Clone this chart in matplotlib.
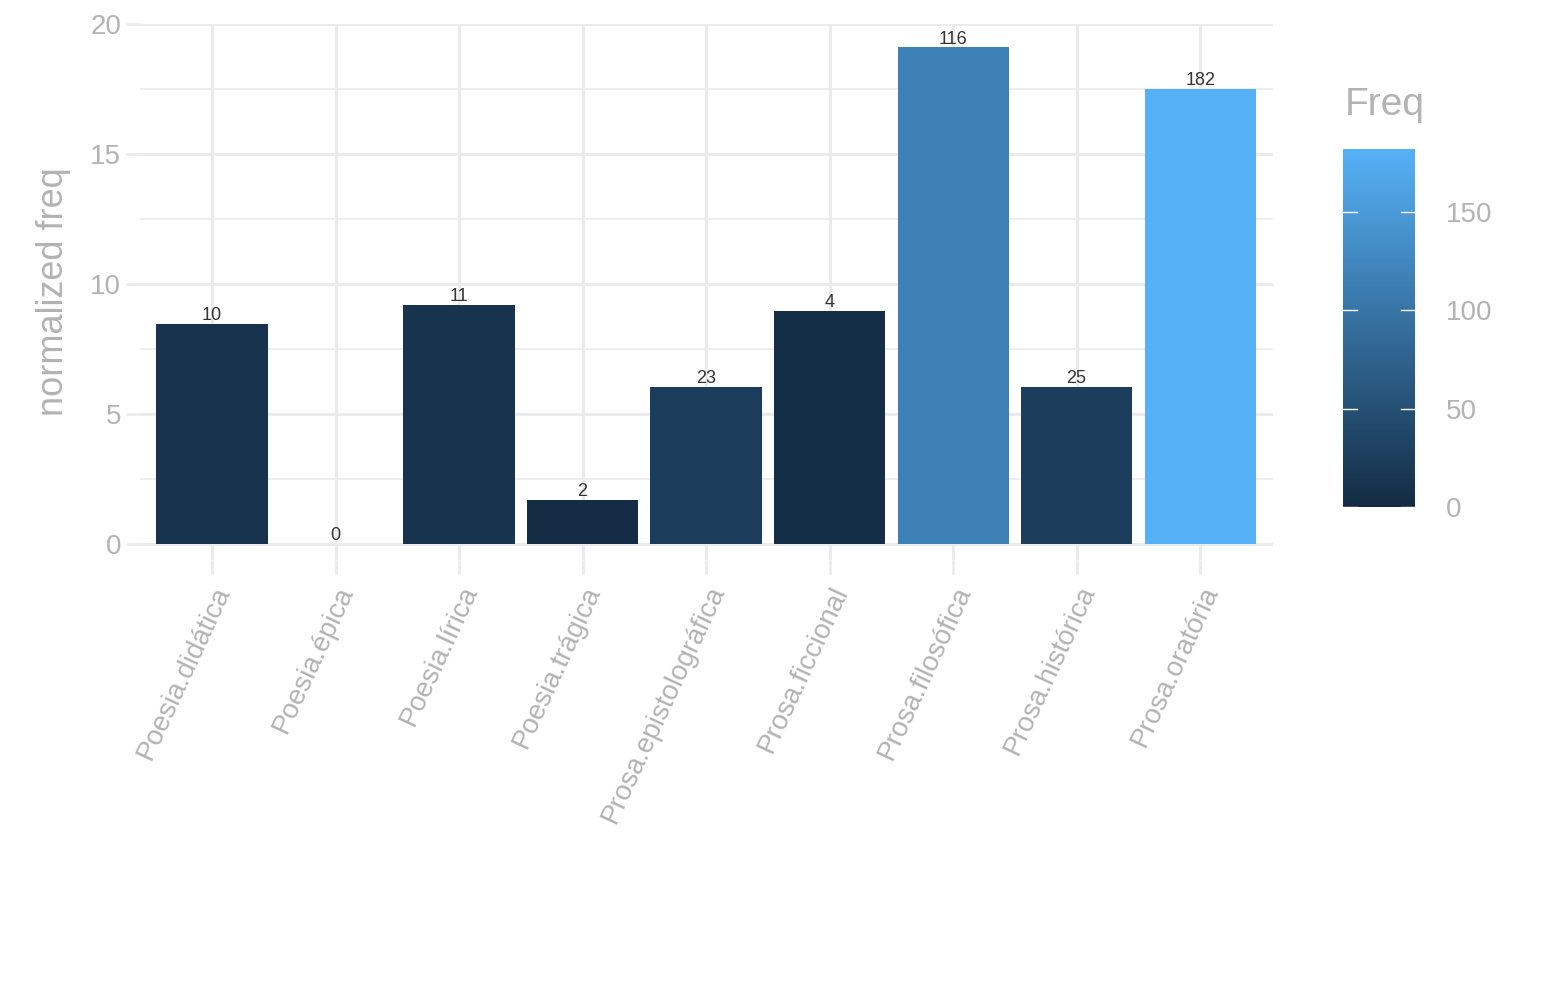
import numpy as np
import matplotlib
matplotlib.use("Agg")
import matplotlib.pyplot as plt
from matplotlib.colors import LinearSegmentedColormap, Normalize

plt.rcParams["font.family"] = ["Liberation Sans", "DejaVu Sans"]

# ── Data ───────────────────────────────────────────────────────────────────────
categories = ["Poesia.didática", "Poesia.épica", "Poesia.lírica", "Poesia.trágica",
              "Prosa.epistolográfica", "Prosa.ficcional", "Prosa.filosófica",
              "Prosa.histórica", "Prosa.oratória"]
norm_freq = [8.45, 0.0, 9.2, 1.7, 6.05, 8.95, 19.1, 6.05, 17.5]
freq      = [10, 0, 11, 2, 23, 4, 116, 25, 182]

GREY = "#b3b3b3"
GRID = "#ebebeb"
cmap = LinearSegmentedColormap.from_list("gg", ["#132B43", "#56B1F7"])
norm = Normalize(vmin=0, vmax=182)

fig = plt.figure(figsize=(15.45, 10), dpi=100)
ax = fig.add_axes([140/1545, 1-559.6/1000, (1273-140)/1545, (559.6-24)/1000])

x = np.arange(1, len(categories) + 1)
ax.bar(x, norm_freq, width=0.9, color=cmap(norm(freq)), zorder=2)
for xi, v, f in zip(x, norm_freq, freq):
    ax.annotate(str(f), (xi, v), xytext=(0, 6), textcoords="offset points",
                ha="center", va="center", fontsize=13, color="#333333", zorder=3)

ax.set_xlim(0.417, 9.59)
ax.set_ylim(-0.6, 20.0)
ax.set_yticks([0, 5, 10, 15, 20])
ax.set_yticks([2.5, 7.5, 12.5, 17.5], minor=True)
ax.set_xticks(x)
ax.set_xticklabels(categories, rotation=65, ha="right", rotation_mode="anchor")
ax.grid(True, which="major", color=GRID, lw=2.2, zorder=0)
ax.grid(True, which="minor", axis="y", color=GRID, lw=1.2, zorder=0)
ax.tick_params(axis="both", which="major", colors=GRID, labelcolor=GREY,
               labelsize=20, length=10, width=2)
ax.tick_params(axis="y", which="minor", length=0)
ax.tick_params(axis="x", pad=6)
for s in ax.spines.values():
    s.set_visible(False)
ax.set_ylabel("normalized freq", fontsize=26, color=GREY, labelpad=14)

# ── Colorbar legend ───────────────────────────────────────────────────────────
cax = fig.add_axes([1343/1545, 1-507/1000, 72/1545, (507-149)/1000])
sm = matplotlib.cm.ScalarMappable(norm=norm, cmap=cmap)
cb = fig.colorbar(sm, cax=cax, ticks=[0, 50, 100, 150])
cb.outline.set_visible(False)
cax.tick_params(colors="white", labelcolor=GREY, labelsize=20, length=0, pad=22)
for t in [0, 50, 100, 150]:
    cax.plot([0, 0.2], [t, t], color="white", lw=1, transform=cax.get_yaxis_transform())
    cax.plot([0.8, 1.0], [t, t], color="white", lw=1, transform=cax.get_yaxis_transform())
fig.text(1345/1545, 1-105/1000, "Freq", fontsize=28, color=GREY, va="center", ha="left")

fig.savefig("out.png", dpi=100)
